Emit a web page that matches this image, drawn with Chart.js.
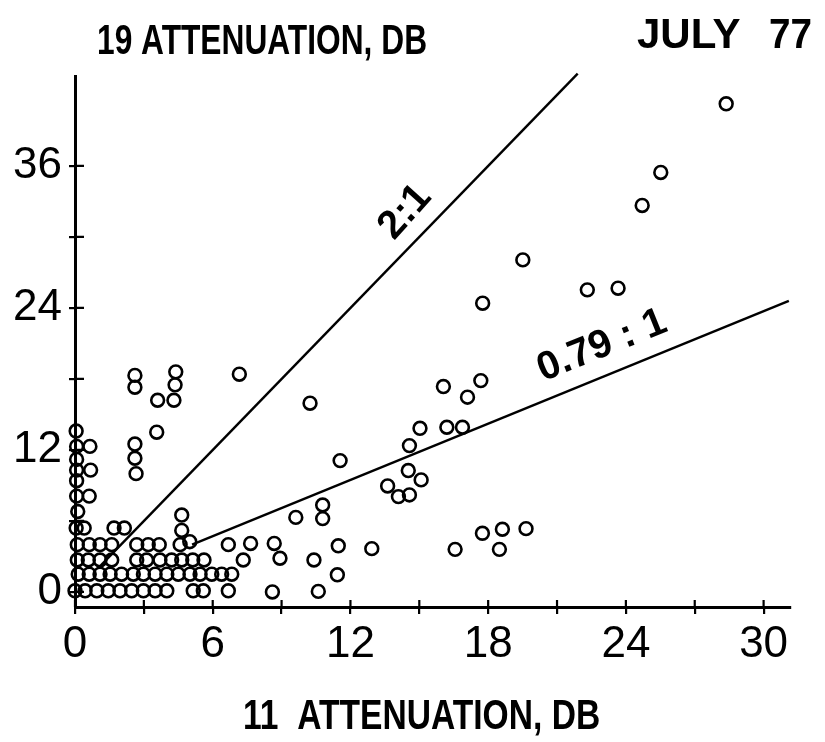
<!DOCTYPE html>
<html><head><meta charset="utf-8">
<script src="https://cdn.jsdelivr.net/npm/chart.js@4/dist/chart.umd.min.js"></script>
<style>html,body{margin:0;padding:0;background:#fff}</style>
</head><body>
<canvas id="c" width="825" height="742"></canvas>
<script>
// 11 GHz attenuation (dB) for each observation
const attn11 = [
  0.05,0.07,0.07,0.07,0.07,0.07,0.12,0.05,0.10,0.10,0.14,0.00,
  0.65,0.68,0.62,0.40,0.62,0.58,0.62,0.44,
  1.09,1.09,1.09,0.95,
  1.70,1.60,1.60,1.53,1.45,
  2.15,2.03,1.96,
  2.61,2.61,2.61,2.61,2.66,2.69,2.69,2.54,2.47,
  3.19,3.12,2.98,2.98,
  3.60,3.56,3.67,3.70,3.49,3.49,
  4.21,4.00,4.00,
  4.39,4.36,4.31,4.65,4.65,4.58,5.00,4.65,4.50,
  5.13,5.01,5.15,5.62,5.45,5.59,
  5.96,6.39,6.83,6.68,6.68,
  7.33,7.65,8.68,8.93,8.60,7.16,
  9.62,10.79,10.79,10.24,11.55,10.41,11.47,11.43,10.60,12.93,
  13.62,14.09,14.57,14.52,15.08,14.57,15.03,16.20,16.88,16.05,17.10,17.68,17.76,19.51,
  16.56,17.75,18.62,18.49,19.65,
  22.32,23.66,24.71,25.52,28.37
];
// 19 GHz attenuation (dB) for the same observations
const attn19 = [
  13.6,12.3,11.2,10.3,9.4,8.1,6.8,5.4,4.0,2.7,1.5,0.1,
  12.3,10.3,8.1,5.4,4.0,2.7,1.5,0.1,
  4.0,2.7,1.5,0.1,
  5.4,4.0,2.7,1.5,0.1,
  5.4,1.5,0.1,
  18.3,17.3,12.5,11.3,10.0,4.0,2.7,1.5,0.1,
  4.0,2.7,1.5,0.1,
  16.2,13.5,4.0,2.7,1.5,0.1,
  2.7,1.5,0.1,
  18.6,17.5,16.2,6.5,5.2,4.0,4.25,2.7,1.5,
  2.7,1.5,0.1,2.7,1.5,0.1,
  1.5,1.5,1.5,4.0,0.1,
  2.7,4.1,4.1,2.85,0.0,18.4,
  6.3,7.35,6.2,15.95,11.1,2.7,3.9,1.45,0.05,3.66,
  8.96,8.06,8.2,10.26,9.47,12.37,13.83,13.92,13.92,17.36,16.46,17.86,24.4,28.06,
  3.6,4.96,5.3,3.6,5.35,
  25.53,25.67,32.66,35.45,41.25
];
// reference ratio lines (end points)
const line21X = [1.0, 21.9];
const line21Y = [2.0, 43.8];
const line079X = [5.1, 31.1];
const line079Y = [4.0, 24.6];
// labelled tick values
const xTickLabels = [0, 6, 12, 18, 24, 30];
const yTickLabels = [0, 12, 24, 36];

const FONT = "'Liberation Sans', Arial, Helvetica, sans-serif";

const textPlugin = {
  id: 'texts',
  afterDraw(chart, args, opts) {
    const ctx = chart.ctx;
    const xs = chart.scales.x, ys = chart.scales.y;
    const ca = chart.chartArea;
    ctx.save();
    ctx.strokeStyle = '#000';
    ctx.lineWidth = 2.2;
    // inner part of crossing tick marks
    ctx.beginPath();
    xs.ticks.forEach(t => {
      const px = xs.getPixelForValue(t.value);
      ctx.moveTo(px, ca.bottom); ctx.lineTo(px, ca.bottom - 7);
    });
    ys.ticks.forEach(t => {
      const py = ys.getPixelForValue(t.value);
      ctx.moveTo(ca.left, py); ctx.lineTo(ca.left + 9, py);
    });
    ctx.stroke();
    ctx.fillStyle = '#000';
    ctx.textBaseline = 'alphabetic';
    (opts.titles || []).forEach(t => {
      ctx.save();
      ctx.font = t.font;
      ctx.translate(t.left, t.base);
      ctx.scale(t.sx, 1);
      ctx.textAlign = 'left';
      ctx.fillText(t.text, 0, 0);
      ctx.restore();
    });
    (opts.lineLabels || []).forEach(l => {
      ctx.save();
      ctx.font = l.font;
      ctx.translate(xs.getPixelForValue(l.x), ys.getPixelForValue(l.y));
      ctx.rotate(l.angle * Math.PI / 180);
      ctx.textAlign = 'center';
      ctx.textBaseline = 'middle';
      ctx.fillText(l.text, 0, 0);
      ctx.restore();
    });
    ctx.restore();
  }
};

new Chart(document.getElementById('c'), {
  type: 'scatter',
  data: {
    datasets: [
      {
        data: attn11.map((x, i) => ({x: x, y: attn19[i]})),
        pointStyle: 'circle',
        pointRadius: 6.4,
        pointBorderWidth: 2.6,
        borderColor: '#000',
        backgroundColor: 'rgba(255,255,255,0)',
        clip: false
      },
      {
        type: 'line',
        data: line21X.map((x, i) => ({x: x, y: line21Y[i]})),
        borderColor: '#000', borderWidth: 2.4, pointRadius: 0, fill: false, clip: false
      },
      {
        type: 'line',
        data: line079X.map((x, i) => ({x: x, y: line079Y[i]})),
        borderColor: '#000', borderWidth: 2.4, pointRadius: 0, fill: false, clip: false
      }
    ]
  },
  options: {
    responsive: false,
    animation: false,
    events: [],
    layout: { padding: { left: 0, right: 35, top: 76, bottom: 0 } },
    plugins: {
      legend: { display: false },
      tooltip: { enabled: false },
      title: { display: false },
      texts: {
        titles: [
          { text: '19 ATTENUATION, DB', left: 97, base: 54, sx: 0.755, font: 'bold 42px ' + FONT },
          { text: 'JULY', left: 637, base: 48, sx: 1.0, font: 'bold 42px ' + FONT },
          { text: '77', left: 769, base: 48, sx: 0.92, font: 'bold 42px ' + FONT }
        ].concat([
          { text: '11  ATTENUATION, DB', left: 243, base: 729, sx: 0.80, font: 'bold 42px ' + FONT }
        ]),
        lineLabels: [
          { text: '2:1', x: 14.38, y: 32.1, angle: -48, font: 'bold 40px ' + FONT },
          { text: '0.79 : 1', x: 22.96, y: 20.8, angle: -22, font: 'bold 40px ' + FONT }
        ]
      }
    },
    scales: {
      x: {
        type: 'linear', position: 'bottom', min: 0, max: 31.15,
        border: { display: true, color: '#000', width: 3 },
        grid: { display: true, drawOnChartArea: false, drawTicks: true, tickLength: 7, color: '#000', lineWidth: 2.2 },
        ticks: {
          stepSize: 3, includeBounds: false, autoSkip: false, maxRotation: 0, minRotation: 0,
          color: '#000', padding: 4, font: { family: FONT, size: 44 },
          callback: v => xTickLabels.includes(v) ? String(v) : ''
        },
        afterFit: s => { s.height = 135; }
      },
      y: {
        type: 'linear', position: 'left', min: -1.27, max: 43.6,
        border: { display: true, color: '#000', width: 3 },
        grid: { display: true, drawOnChartArea: false, drawTicks: true, tickLength: 6, color: '#000', lineWidth: 2.2 },
        ticks: {
          stepSize: 6, includeBounds: false, autoSkip: false,
          color: '#000', padding: 7, font: { family: FONT, size: 44 },
          callback: v => yTickLabels.includes(v) ? String(v) : ''
        },
        afterBuildTicks: s => { s.ticks = s.ticks.filter(t => t.value >= 0 && t.value <= 36); },
        afterFit: s => { s.width = 75; }
      }
    }
  },
  plugins: [textPlugin]
});
</script>
</body></html>
